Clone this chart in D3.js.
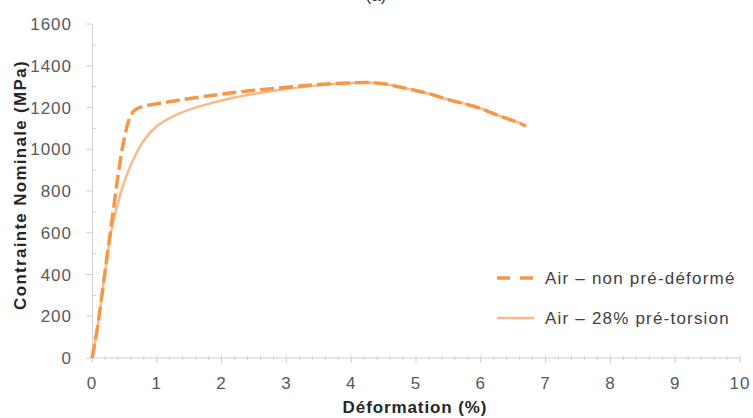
<!DOCTYPE html>
<html><head><meta charset="utf-8">
<script src="https://cdn.jsdelivr.net/npm/d3@7/dist/d3.min.js"></script>
<style>body{margin:0;background:#fff}svg{display:block}</style>
</head><body>
<svg id="c" width="753" height="418"></svg>
<script>
const xTicks = [0,1,2,3,4,5,6,7,8,9,10];
const yTicks = [0,200,400,600,800,1000,1200,1400,1600];
const seriesNames = ["Air \u2013 non pr\u00e9-d\u00e9form\u00e9", "Air \u2013 28% pr\u00e9-torsion"];
const strainNonDeforme = [0,0.05,0.1,0.2,0.3,0.4,0.46,0.51,0.57,0.63,0.7,0.79,1.0,1.4,2.13,2.44,3,3.5,4,4.2,4.5,4.75,5.2,5.5,6,6.3,6.6,6.7];
const stressNonDeforme = [0,80,180,410,640,870,990,1068,1140,1178,1195,1205,1218,1238,1269,1280,1297,1310,1318,1320,1314,1298,1266,1238,1195,1158,1125,1110];
const strainTorsion = [0,0.05,0.1,0.2,0.28,0.35,0.42,0.5,0.58,0.66,0.74,0.87,1.0,1.2,1.4,1.77,2.13,2.44,3,3.5,4,4.2,4.5,4.75,5.2,5.5,6,6.3,6.6,6.65];
const stressTorsion = [0,80,180,410,580,680,765,845,910,965,1012,1070,1110,1150,1178,1215,1243,1262,1289,1306,1317,1320,1314,1298,1266,1238,1195,1158,1125,1118];

const svg = d3.select("#c");
const x = d3.scaleLinear().domain([0,10]).range([92,740]);
const y = d3.scaleLinear().domain([0,1600]).range([358,24]);
const axisCol = "#d0d0d0", txtCol = "#595959";
const font = "'Liberation Sans', Arial, sans-serif";
const ls = "1.2px";

// title (clipped at top, as in reference)
svg.append("text").attr("x",376).attr("y",1).attr("text-anchor","middle")
  .attr("font-family",font).attr("font-size",17).attr("fill","#333").text("(a)");

// y axis
const gy = svg.append("g").attr("transform","translate(92,0)");
gy.call(d3.axisLeft(y).tickValues([]).tickSizeOuter(0));
gy.select(".domain").attr("stroke",axisCol);
gy.selectAll(".minor").data(d3.range(100,1600,200)).enter().append("line")
  .attr("x1",0).attr("x2",4).attr("y1",d=>y(d)).attr("y2",d=>y(d)).attr("stroke",axisCol);
gy.selectAll(".major").data(yTicks).enter().append("line")
  .attr("x1",-6).attr("x2",0).attr("y1",d=>y(d)).attr("y2",d=>y(d)).attr("stroke",axisCol);
gy.selectAll(".lbl").data(yTicks).enter().append("text")
  .attr("x",-20).attr("y",d=>y(d)).attr("dy","0.36em").attr("text-anchor","end")
  .attr("font-family",font).attr("font-size",17).attr("letter-spacing","1px").attr("fill",txtCol).text(d=>d);

// x axis
const gx = svg.append("g").attr("transform","translate(0,358)");
gx.append("line").attr("x1",x(0)).attr("x2",x(10)).attr("stroke",axisCol);
gx.selectAll(".minor").data(d3.range(0,10.001,0.2).filter(v=>Math.abs(v-Math.round(v))>0.01)).enter().append("line")
  .attr("x1",d=>x(d)).attr("x2",d=>x(d)).attr("y1",-2).attr("y2",2).attr("stroke",axisCol);
gx.selectAll(".major").data(xTicks).enter().append("line")
  .attr("x1",d=>x(d)).attr("x2",d=>x(d)).attr("y1",-3).attr("y2",5).attr("stroke",axisCol);
gx.selectAll(".lbl").data(xTicks).enter().append("text")
  .attr("x",d=>x(d)).attr("y",31).attr("text-anchor","middle")
  .attr("font-family",font).attr("font-size",17).attr("letter-spacing","1px").attr("fill",txtCol).text(d=>d);

// axis titles
svg.append("text").attr("x",415).attr("y",413).attr("text-anchor","middle")
  .attr("font-family",font).attr("font-size",17).attr("letter-spacing","0.9px").attr("font-weight","bold").attr("fill","#262626")
  .text("D\u00e9formation (%)");
svg.append("text").attr("transform","translate(26,185) rotate(-90)").attr("text-anchor","middle")
  .attr("font-family",font).attr("font-size",17).attr("letter-spacing","1.3px").attr("font-weight","bold").attr("fill","#262626")
  .text("Contrainte Nominale (MPa)");

// lines
const line = d3.line().x(d=>x(d[0])).y(d=>y(d[1])).curve(d3.curveMonotoneX);
const dTors = strainTorsion.map((v,i)=>[v,stressTorsion[i]]);
const dNon = strainNonDeforme.map((v,i)=>[v,stressNonDeforme[i]]);
svg.append("path").attr("d",line(dTors)).attr("fill","none").attr("stroke","#f9b98a").attr("stroke-width",2.5);
svg.append("path").attr("d",line(dNon)).attr("fill","none").attr("stroke","#f79646").attr("stroke-width",3.5)
  .attr("stroke-dasharray","14,5");

// legend
const leg = [{n:seriesNames[0],c:"#f79646",w:3.5,da:"13,10",y:278},{n:seriesNames[1],c:"#f9b98a",w:2.5,da:null,y:318}];
leg.forEach(l=>{
  svg.append("line").attr("x1",497).attr("x2",534).attr("y1",l.y).attr("y2",l.y)
    .attr("stroke",l.c).attr("stroke-width",l.w).attr("stroke-dasharray",l.da);
  svg.append("text").attr("x",545).attr("y",l.y).attr("dy","0.36em")
    .attr("font-family",font).attr("font-size",17).attr("letter-spacing",ls).attr("fill","#404040").text(l.n);
});
</script>
</body></html>
